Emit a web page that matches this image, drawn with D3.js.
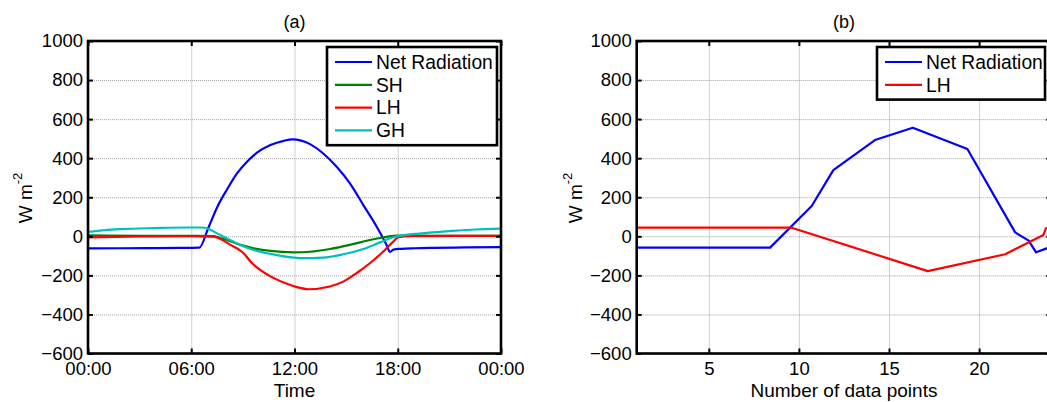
<!DOCTYPE html>
<html><head><meta charset="utf-8">
<script src="https://cdn.jsdelivr.net/npm/d3@7"></script>
<style>
body{margin:0;background:#fff;}
svg text{font-family:"Liberation Sans",Arial,Helvetica,sans-serif;fill:#000;}
</style></head><body>
<svg id="chart" width="1047" height="402"></svg>
<script>
// ---------------- data ----------------
const yTickValues = [-600, -400, -200, 0, 200, 400, 600, 800, 1000];
const timeTickHours = [0, 6, 12, 18, 24];
const timeTickLabels = ["00:00", "06:00", "12:00", "18:00", "00:00"];
const pointTicks = [5, 10, 15, 20];
const seriesNamesA = ["Net Radiation", "SH", "LH", "GH"];
const seriesNamesB = ["Net Radiation", "LH"];
const seriesColorsA = ["#0000ff", "#008000", "#ff0000", "#00bfbf"];
const seriesColorsB = ["#0000ff", "#ff0000"];

// Panel (a): hour of day vs flux (W m-2)
const netHoursA  = [0, 2, 4, 6, 6.47, 7.0, 7.5, 8.08, 8.66, 9.24, 9.82, 10.6, 11.37, 11.9, 12.9, 13.67, 14.45, 15.22, 16.0, 16.77, 17.35, 17.55, 17.75, 18.2, 19, 20, 22, 24];
const netValuesA = [-62, -61, -60, -59, -58, 45, 148, 240, 322, 382, 428, 467, 489, 496, 472, 424, 356, 271, 160, 50, -44, -80, -68, -64, -61, -59, -57, -55];

const shHoursA  = [0, 3, 6, 7.3, 7.6, 8.08, 8.85, 9.63, 10.6, 11.95, 12.9, 14.06, 15.22, 16.38, 17.35, 17.93, 20, 24];
const shValuesA = [5, 3, 2, 1, -6, -19, -44, -61, -75, -82, -79, -65, -44, -19, -3, 4, 3, 2];

const lhHoursA  = [0, 3, 6, 7.3, 7.7, 8.27, 8.85, 9.05, 9.44, 10.0, 10.8, 11.56, 12.14, 12.8, 14.06, 14.83, 15.6, 16.38, 17.16, 17.74, 18.03, 18.7, 21, 24];
const lhValuesA = [-5, -1, 1, -2, -14, -44, -73, -87, -129, -172, -214, -243, -260, -271, -257, -232, -189, -138, -78, -27, -5, 1, 2, 2];

const ghHoursA  = [0, 1, 1.94, 3.88, 5.8, 6.59, 6.98, 7.5, 8.08, 8.85, 9.63, 10.6, 11.95, 12.5, 13.67, 14.83, 16.0, 16.97, 17.74, 18.3, 19.4, 20.96, 22.5, 24];
const ghValuesA = [22, 32, 37, 42, 45, 45, 39, 15, -11, -44, -70, -90, -109, -112, -109, -92, -65, -31, -5, 5, 15, 27, 35, 39];

// Panel (b): data point index vs flux (W m-2)
const netPointsB = [1, 8.4, 10.71, 11.91, 14.22, 16.32, 19.35, 22.0, 22.75, 23.16, 24];
const netValuesB = [-58, -58, 155, 339, 493, 556, 447, 20, -22, -82, -53];
const lhPointsB  = [1, 9.6, 17.15, 21.45, 23.57, 23.7, 24];
const lhValuesB  = [44, 44, -178, -92, 7, 41, 44];

// ---------------- drawing ----------------
const svg = d3.select("#chart");
svg.append("rect").attr("width", 1047).attr("height", 402).attr("fill", "#fff");

const TOP = 41, BOTTOM = 353.5;
const y = d3.scaleLinear().domain([-600, 1000]).range([BOTTOM, TOP]);

function zip(xs, ys) { return xs.map((v, i) => [v, ys[i]]); }

function drawPanel(cfg) {
  const x = cfg.x;
  const [L, R] = x.range();
  const g = svg.append("g");
  const clipId = "clip" + cfg.id;
  svg.append("clipPath").attr("id", clipId).append("rect")
    .attr("x", L).attr("y", TOP).attr("width", R - L).attr("height", BOTTOM - TOP);

  // grid
  const gx = g.append("g").attr("transform", `translate(0,${BOTTOM})`)
    .call(d3.axisBottom(x).tickValues(cfg.xTicks).tickSize(-(BOTTOM - TOP)).tickFormat(""));
  const gy = g.append("g").attr("transform", `translate(${L},0)`)
    .call(d3.axisLeft(y).tickValues(yTickValues).tickSize(-(R - L)).tickFormat(""));
  [gx, gy].forEach(a => {
    a.select(".domain").remove();
    a.selectAll("line").attr("stroke", "#a0a0a0").attr("stroke-width", 1).attr("stroke-dasharray", "1,1");
  });

  // data lines
  const lg = g.append("g").attr("clip-path", `url(#${clipId})`);
  cfg.series.forEach(s => {
    const line = d3.line().x(d => x(d[0])).y(d => y(d[1])).curve(cfg.curve);
    lg.append("path").datum(zip(s.xs, s.ys))
      .attr("fill", "none").attr("stroke", s.color).attr("stroke-width", 2.2)
      .attr("stroke-linejoin", "round").attr("d", line);
  });

  // axes with inward ticks
  const ticksStyle = a => {
    a.select(".domain").remove();
    a.selectAll("line").attr("stroke", "#000").attr("stroke-width", 2);
    a.selectAll("text").attr("font-size", "18.5px").attr("fill", "#000")
      .attr("font-family", '"Liberation Sans",Arial,sans-serif');
  };
  g.append("g").attr("transform", `translate(0,${BOTTOM})`)
    .call(d3.axisBottom(x).tickValues(cfg.xTicks).tickSizeInner(-5).tickSizeOuter(0).tickPadding(8)
      .tickFormat(cfg.xFormat)).call(ticksStyle);
  g.append("g").attr("transform", `translate(0,${TOP})`)
    .call(d3.axisTop(x).tickValues(cfg.xTicks).tickSizeInner(-5).tickSizeOuter(0).tickFormat(""))
    .call(ticksStyle);
  g.append("g").attr("transform", `translate(${L},0)`)
    .call(d3.axisLeft(y).tickValues(yTickValues).tickSizeInner(-5).tickSizeOuter(0).tickPadding(5)
      .tickFormat(d3.format("d")))
    .call(ticksStyle);
  g.append("g").attr("transform", `translate(${R},0)`)
    .call(d3.axisRight(y).tickValues(yTickValues).tickSizeInner(-5).tickSizeOuter(0).tickFormat(""))
    .call(ticksStyle);

  // box
  g.append("rect").attr("x", L).attr("y", TOP).attr("width", R - L).attr("height", BOTTOM - TOP)
    .attr("fill", "none").attr("stroke", "#000").attr("stroke-width", 2.6);

  // title
  g.append("text").attr("x", (L + R) / 2).attr("y", 28).attr("text-anchor", "middle")
    .attr("font-size", "18px").text(cfg.title);
  // x label
  g.append("text").attr("x", (L + R) / 2).attr("y", 397).attr("text-anchor", "middle")
    .attr("font-size", "19px").text(cfg.xLabel);
  // y label
  const yl = g.append("text").attr("transform", `translate(${cfg.yLabelX},198) rotate(-90)`)
    .attr("text-anchor", "middle").attr("font-size", "19px");
  yl.append("tspan").text("W m");
  yl.append("tspan").attr("font-size", "13px").attr("dy", "-0.75em").text("-2");

  // legend
  const lgx = cfg.legendX, lgy = 47, rowH = 22.8;
  const leg = g.append("g");
  leg.append("rect").attr("x", lgx).attr("y", lgy).attr("width", cfg.legendW)
    .attr("height", cfg.series.length * rowH + 7)
    .attr("fill", "#fff").attr("stroke", "#000").attr("stroke-width", 2.6);
  cfg.series.forEach((s, i) => {
    const cy = lgy + 15 + i * rowH;
    leg.append("line").attr("x1", lgx + 8).attr("x2", lgx + 45).attr("y1", cy).attr("y2", cy)
      .attr("stroke", s.color).attr("stroke-width", 2.2);
    leg.append("text").attr("x", lgx + 49).attr("y", cy).attr("dy", "0.35em")
      .attr("font-size", "19.3px").text(s.name);
  });
}

drawPanel({
  id: "a",
  x: d3.scaleLinear().domain([0, 24]).range([88, 501]),
  xTicks: timeTickHours,
  xFormat: (d, i) => timeTickLabels[i],
  title: "(a)", xLabel: "Time", yLabelX: 32,
  curve: d3.curveMonotoneX,
  legendX: 327, legendW: 170,
  series: [
    {name: seriesNamesA[0], color: seriesColorsA[0], xs: netHoursA, ys: netValuesA},
    {name: seriesNamesA[1], color: seriesColorsA[1], xs: shHoursA, ys: shValuesA},
    {name: seriesNamesA[2], color: seriesColorsA[2], xs: lhHoursA, ys: lhValuesA},
    {name: seriesNamesA[3], color: seriesColorsA[3], xs: ghHoursA, ys: ghValuesA}
  ]
});

drawPanel({
  id: "b",
  x: d3.scaleLinear().domain([1, 24]).range([636.7, 1051.2]),
  xTicks: pointTicks,
  xFormat: d => d,
  title: "(b)", xLabel: "Number of data points", yLabelX: 582,
  curve: d3.curveLinear,
  legendX: 877, legendW: 168,
  series: [
    {name: seriesNamesB[0], color: seriesColorsB[0], xs: netPointsB, ys: netValuesB},
    {name: seriesNamesB[1], color: seriesColorsB[1], xs: lhPointsB, ys: lhValuesB}
  ]
});
</script>
</body></html>
